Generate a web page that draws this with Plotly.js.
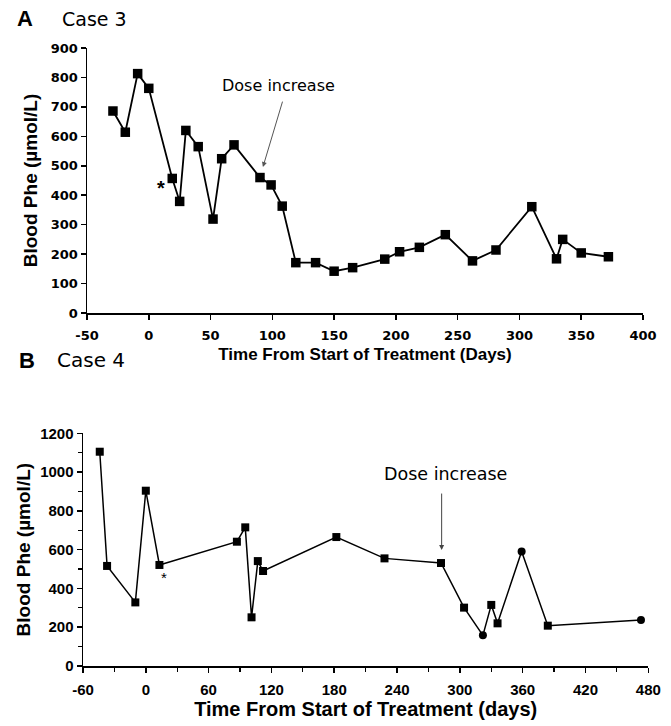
<!DOCTYPE html>
<html>
<head>
<meta charset="utf-8">
<script src="https://cdn.plot.ly/plotly-3.0.1.min.js"></script>
<style>html,body{margin:0;padding:0;background:#fff;}#chart{width:671px;height:726px;}</style>
</head>
<body>
<div id="chart"></div>
<script>
// Panel A: Case 3
var case3Days = [-29, -19, -9, 0, 19, 25, 30, 40, 52, 59, 69, 90, 99, 108, 119, 135, 150, 165, 191, 203, 219, 240, 262, 281, 310, 330, 335, 350, 372];
var case3Phe  = [686, 614, 813, 763, 457, 379, 620, 565, 319, 524, 571, 460, 435, 363, 171, 171, 142, 154, 183, 208, 223, 266, 177, 214, 361, 184, 250, 204, 191];

// Panel B: Case 4
var case4Days = [-44, -37, -10, 0, 13, 87, 95, 101, 107, 112, 182, 228, 282, 304, 322, 330, 336, 359, 384, 473];
var case4Phe  = [1105, 516, 328, 904, 521, 641, 715, 251, 541, 490, 665, 555, 531, 301, 158, 315, 220, 590, 208, 237];
var case4Symbols = ['square','square','square','square','square','square','square','square','square','square','square','square','square','square','circle','square','square','circle','square','circle'];

var xTicksA = [-50, 0, 50, 100, 150, 200, 250, 300, 350, 400];
var xTickTextA = ['-50', '0', '50', '100', '150', '200', '250', '300', '350', '400'];
var yTicksA = [0, 100, 200, 300, 400, 500, 600, 700, 800, 900];
var xTicksB = [-60, 0, 60, 120, 180, 240, 300, 360, 420, 480];
var xTickTextB = ['-60', '0', '60', '120', '180', '240', '300', '360', '420', '480'];
var yTicksB = [0, 200, 400, 600, 800, 1000, 1200];

var SANS = 'Liberation Sans, Arial, sans-serif';
var VERD = 'DejaVu Sans, Verdana, sans-serif';

var traces = [
  {x: case3Days, y: case3Phe, xaxis: 'x', yaxis: 'y', mode: 'lines+markers', type: 'scatter',
   line: {color: '#000', width: 1.8}, marker: {symbol: 'square', size: 9.5, color: '#000'}, cliponaxis: false},
  {x: case4Days, y: case4Phe, xaxis: 'x2', yaxis: 'y2', mode: 'lines+markers', type: 'scatter',
   line: {color: '#000', width: 1.5}, marker: {symbol: case4Symbols, size: 8, color: '#000'}, cliponaxis: false}
];

var axisCommon = {
  showline: true, linecolor: '#000', linewidth: 1.5, ticks: 'outside', ticklen: 5, tickwidth: 1.5, tickcolor: '#000',
  showgrid: false, zeroline: false, automargin: false, fixedrange: true
};

function ax(extra) { return Object.assign({}, axisCommon, extra); }

var layout = {
  width: 671, height: 726, margin: {l: 0, r: 0, t: 0, b: 0},
  paper_bgcolor: '#fff', plot_bgcolor: '#fff', showlegend: false,
  font: {family: SANS, color: '#000'},
  xaxis: ax({domain: [0.12966, 0.95827], range: [-50, 400], tickvals: xTicksA, ticktext: xTickTextA, anchor: 'y',
    tickfont: {family: VERD, size: 13, weight: 'bold'}, ticklabelstandoff: 5,
    title: {text: 'Time From Start of Treatment (Days)', font: {size: 17, weight: 'bold'}, standoff: 6}}),
  yaxis: ax({domain: [0.56887, 0.93388], range: [0, 900], tickvals: yTicksA, anchor: 'x',
    tickfont: {family: VERD, size: 13, weight: 'bold'},
    title: {text: 'Blood Phe (µmol/L)', font: {size: 19, weight: 'bold'}, standoff: 8}}),
  xaxis2: ax({domain: [0.12370, 0.96617], range: [-60, 480], tickvals: xTicksB, ticktext: xTickTextB, anchor: 'y2',
    tickfont: {size: 15, weight: 'bold'}, ticklabelstandoff: 4,
    minor: {dtick: 30, tick0: -60, ticks: 'outside', ticklen: 4, tickcolor: '#000', tickwidth: 1.2},
    title: {text: 'Time From Start of Treatment (days)', font: {size: 20, weight: 'bold'}, standoff: 4}}),
  yaxis2: ax({domain: [0.08264, 0.40317], range: [0, 1200], tickvals: yTicksB, anchor: 'x2',
    tickfont: {size: 15, weight: 'bold'},
    minor: {dtick: 100, tick0: 0, ticks: 'outside', ticklen: 4, tickcolor: '#000', tickwidth: 1.2},
    title: {text: 'Blood Phe (µmol/L)', font: {size: 19, weight: 'bold'}, standoff: 4}}),
  annotations: [
    {xref: 'paper', yref: 'paper', x: 15/671, y: 1 - 19/726, xanchor: 'left', yanchor: 'middle', showarrow: false,
     text: 'A', font: {size: 22, weight: 'bold'}},
    {xref: 'paper', yref: 'paper', x: 60/671, y: 1 - 19/726, xanchor: 'left', yanchor: 'middle', showarrow: false,
     text: 'Case 3', font: {family: VERD, size: 19}},
    {xref: 'paper', yref: 'paper', x: 17/671, y: 1 - 360/726, xanchor: 'left', yanchor: 'middle', showarrow: false,
     text: 'B', font: {size: 22, weight: 'bold'}},
    {xref: 'paper', yref: 'paper', x: 55/671, y: 1 - 360/726, xanchor: 'left', yanchor: 'middle', showarrow: false,
     text: 'Case 4', font: {family: VERD, size: 20}},
    // Panel A dose increase
    {xref: 'x', yref: 'y', x: 104.6, y: 771, showarrow: false, text: 'Dose increase', font: {family: VERD, size: 16}},
    {xref: 'x', yref: 'y', x: 92.4, y: 496, axref: 'x', ayref: 'y', ax: 108.6, ay: 723, text: '',
     showarrow: true, arrowhead: 2, arrowsize: 1, arrowwidth: 1, arrowcolor: '#555'},
    {xref: 'x', yref: 'y', x: 10, y: 425, showarrow: false, text: '*', font: {size: 20, weight: 'bold'}},
    // Panel B dose increase
    {xref: 'x2', yref: 'y2', x: 286.7, y: 992, showarrow: false, text: 'Dose increase', font: {family: VERD, size: 17.5}},
    {xref: 'x2', yref: 'y2', x: 282.6, y: 598, axref: 'x2', ayref: 'y2', ax: 282.6, ay: 897, text: '',
     showarrow: true, arrowhead: 2, arrowsize: 1, arrowwidth: 1, arrowcolor: '#444'},
    {xref: 'x2', yref: 'y2', x: 17, y: 455, showarrow: false, text: '*', font: {size: 15}}
  ]
};

Plotly.newPlot('chart', traces, layout, {displayModeBar: false, staticPlot: true});
</script>
</body>
</html>
